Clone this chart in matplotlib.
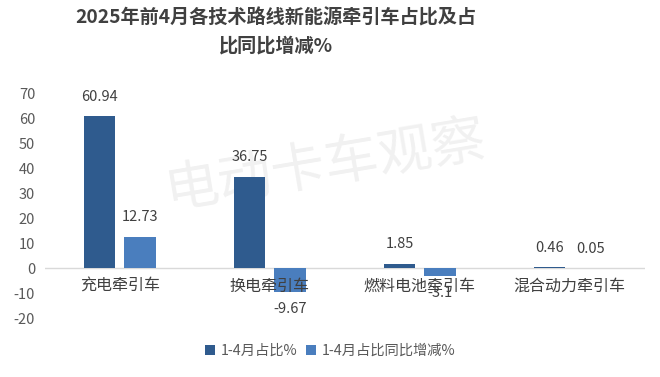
import matplotlib
matplotlib.use("Agg")
import matplotlib.pyplot as plt
import numpy as np

plt.rcParams["font.family"] = ["Noto Sans CJK SC", "DejaVu Sans"]

categories = ["充电牵引车", "换电牵引车", "燃料电池牵引车", "混合动力牵引车"]
share = [60.94, 36.75, 1.85, 0.46]
share_change = [12.73, -9.67, -3.1, 0.05]
series_names = ["1-4月占比%", "1-4月占比同比增减%"]
yticks = [-20, -10, 0, 10, 20, 30, 40, 50, 60, 70]

DARK = "#2f5b8e"
LIGHT = "#4a7ebe"
TXT = "#404040"

fig = plt.figure(figsize=(6.6, 3.77), dpi=100)
ax = fig.add_axes([0.068, 0.156, 0.909, 0.595])
ax.patch.set_alpha(0)

x = np.arange(len(categories))
w = 0.21
off = 0.135
b1 = ax.bar(x - off, share, w, color=DARK, label=series_names[0])
b2 = ax.bar(x + off, share_change, w, color=LIGHT, label=series_names[1])

for bars, vals in [(b1, share), (b2, share_change)]:
    for rect, v in zip(bars, vals):
        cx = rect.get_x() + rect.get_width() / 2
        if v >= 0:
            ax.annotate(f"{v:g}", (cx, v), xytext=(0, 9), textcoords="offset points",
                        ha="center", va="bottom", fontsize=10.5, color=TXT)
        else:
            ax.annotate(f"{v:g}", (cx, v), xytext=(0, -7), textcoords="offset points",
                        ha="center", va="top", fontsize=10.5, color=TXT)

# category labels sit just under the zero line
for xi, name in zip(x, categories):
    ax.annotate(name, (xi, 0), xytext=(0, -7), textcoords="offset points",
                ha="center", va="top", fontsize=11.5, color=TXT)

ax.axhline(0, color="#d9d9d9", linewidth=1, zorder=0)
ax.set_xlim(-0.5, len(categories) - 0.5)
ax.set_ylim(-20, 70)
ax.set_yticks(yticks)
ax.set_yticklabels([str(t) for t in yticks], fontsize=10.5, color="#595959")
ax.set_xticks([])
ax.tick_params(axis="y", length=0, pad=7)
for s in ax.spines.values():
    s.set_visible(False)

fig.text(0.418, 0.978, "2025年前4月各技术路线新能源牵引车占比及占\n比同比增减%",
         ha="center", va="top", fontsize=13.8, fontweight="bold", color=TXT,
         linespacing=1.6)

# watermark, behind the bars
fig.text(0.492, 0.562, "电动卡车观察", ha="center", va="center", fontsize=39,
         color="#000000", alpha=0.06, rotation=9.5, zorder=-1)

handles, labels = ax.get_legend_handles_labels()
fig.legend(handles, labels, loc="center", bbox_to_anchor=(0.5, 0.07), ncol=2,
           frameon=False, fontsize=10.3, labelcolor="#595959", handlelength=0.7,
           handleheight=0.7, columnspacing=0.6, handletextpad=0.4)

fig.savefig("out.png", dpi=100)
